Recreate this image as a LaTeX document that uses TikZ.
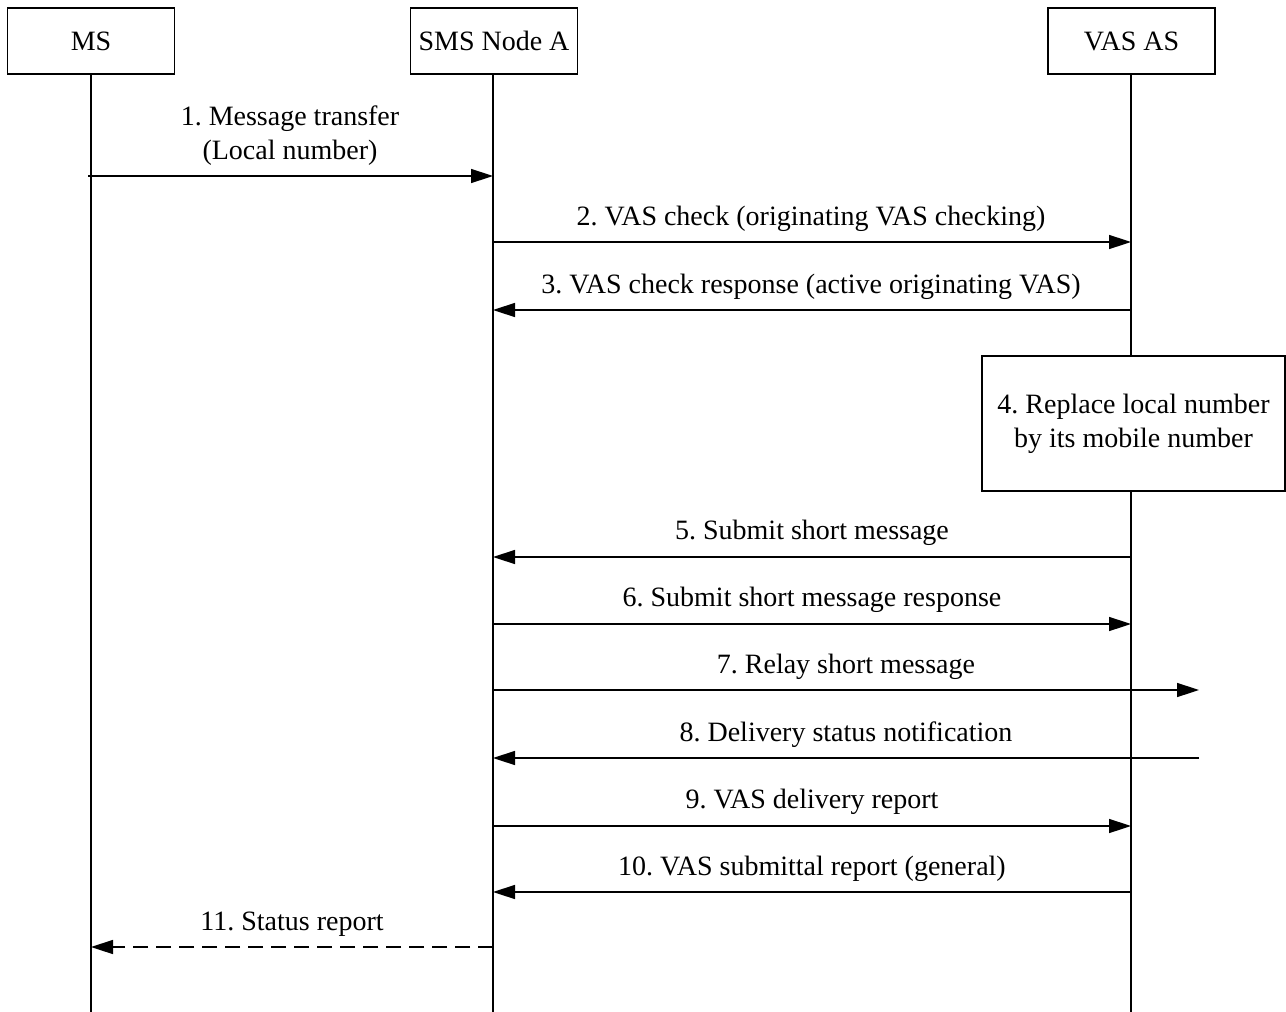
\documentclass[tikz,border=0pt]{standalone}
\usepackage{fontspec}
\setmainfont{Liberation Serif}
\usetikzlibrary{arrows.meta}
\frenchspacing
\begin{document}
\begin{tikzpicture}[x=0.5pt,y=-0.5pt,
  txt/.style={font=\fontsize{14}{17}\selectfont},
  head/.style={txt,draw,line width=0.6pt,minimum width=83.5pt,minimum height=33pt,inner sep=0pt},
  actbox/.style={txt,draw,fill=white,line width=0.6pt,minimum width=151.5pt,minimum height=67.5pt,inner sep=0pt,align=center},
  life/.style={line width=0.6pt},
  msg/.style={line width=0.75pt,-{Triangle[length=11pt,width=7pt]}},
  rmsg/.style={msg,dash pattern=on 7.5pt off 4pt},
  lbl/.style={txt,anchor=base,inner sep=0pt,align=center}]
\useasboundingbox (0,0) rectangle (1286,1012);
% heads
\node[head] (ms) at (91,41) {MS};
\node[head] (sms) at (494,41) {SMS Node A};
\node[head] (vas) at (1131.5,41) {VAS AS};
% lifeline ends
\coordinate (msE) at (91,1012);
\coordinate (smsE) at (493,1012);
\coordinate (vasE) at (1131,1012);
\draw[life] (ms.south) -- (msE);
\draw[life] (sms.south -| smsE) -- (smsE);
\draw[life] (vas.south -| vasE) -- (vasE);
% action box
\node[actbox] (act) at (1133.5,423.5) {4. Replace local number\\by its mobile number};
% message endpoints
\coordinate (m1a) at (88,176);  \coordinate (m1b) at (493,176);
\coordinate (m2a) at (493,242); \coordinate (m2b) at (1131,242);
\coordinate (m3a) at (1131,310); \coordinate (m3b) at (493,310);
\coordinate (m5a) at (1131,557); \coordinate (m5b) at (493,557);
\coordinate (m6a) at (493,624); \coordinate (m6b) at (1131,624);
\coordinate (m7a) at (493,690); \coordinate (m7b) at (1199,690);
\coordinate (m8a) at (1199,758); \coordinate (m8b) at (493,758);
\coordinate (m9a) at (493,826); \coordinate (m9b) at (1131,826);
\coordinate (m10a) at (1131,892); \coordinate (m10b) at (493,892);
\coordinate (m11a) at (493,947); \coordinate (m11b) at (91,947);
% messages
\draw[msg] (m1a) -- (m1b);
\node[txt,align=center,inner sep=0pt] (l1) at (290,136) {1. Message transfer\\(Local number)};
\draw[msg] (m2a) -- (m2b);
\node[lbl] (l2) at (811,225) {2. VAS check (originating VAS checking)};
\draw[msg] (m3a) -- (m3b);
\node[lbl] (l3) at (811,293) {3. VAS check response (active originating VAS)};
\draw[msg] (m5a) -- (m5b);
\node[lbl] (l5) at (812,539) {5. Submit short message};
\draw[msg] (m6a) -- (m6b);
\node[lbl] (l6) at (812,606) {6. Submit short message response};
\draw[msg] (m7a) -- (m7b);
\node[lbl] (l7) at (846,673) {7. Relay short message};
\draw[msg] (m8a) -- (m8b);
\node[lbl] (l8) at (846,741) {8. Delivery status notification};
\draw[msg] (m9a) -- (m9b);
\node[lbl] (l9) at (812,808) {9. VAS delivery report};
\draw[msg] (m10a) -- (m10b);
\node[lbl] (l10) at (812,875) {10. VAS submittal report (general)};
\draw[rmsg] (m11a) -- (m11b);
\node[lbl] (l11) at (292,930) {11. Status report};
\end{tikzpicture}
\end{document}
